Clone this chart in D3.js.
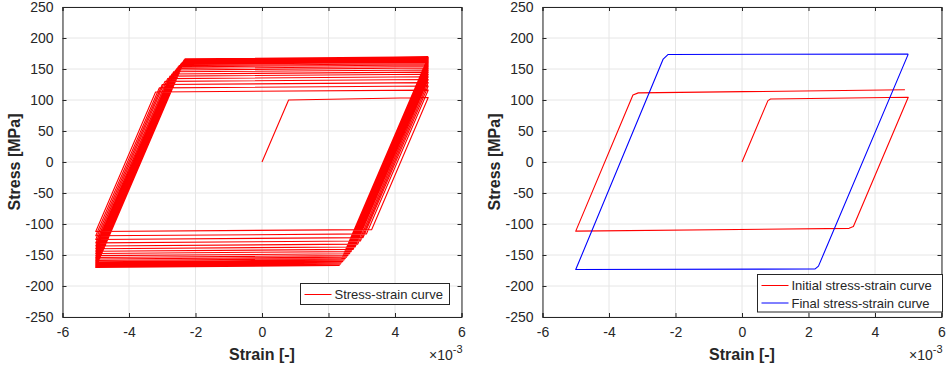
<!DOCTYPE html>
<html><head><meta charset="utf-8">
<script src="https://cdn.jsdelivr.net/npm/d3@7"></script>
<style>body{margin:0;background:#fff}svg{display:block}text{font-family:"Liberation Sans",Arial,Helvetica,sans-serif;fill:#262626}</style>
</head><body><div id="chart"></div>
<script>
// strain values in units of 1e-3
const xTicks = [-6, -4, -2, 0, 2, 4, 6];
const yTicks = [-250, -200, -150, -100, -50, 0, 50, 100, 150, 200, 250];

// Left: full cyclic history
const strainAll = [0, 0.8, 5, 3.30, -5, -3.20, 5, 3.14, -5, -3.09, 5, 3.04, -5, -3.00, 5, 2.96, -5, -2.92, 5, 2.88, -5, -2.84, 5, 2.80, -5, -2.77, 5, 2.74, -5, -2.71, 5, 2.68, -5, -2.66, 5, 2.63, -5, -2.60, 5, 2.58, -5, -2.56, 5, 2.54, -5, -2.52, 5, 2.50, -5, -2.49, 5, 2.47, -5, -2.45, 5, 2.44, -5, -2.43, 5, 2.42, -5, -2.40, 5, 2.39, -5, -2.38, 5, 2.37, -5, -2.36, 5, 2.36, -5, -2.35, 5, 2.34, -5, -2.34, 5, 2.33, -5, -2.32, 5, 2.32, -5, -2.32, 5, 2.31, -5, -2.31, 5];
const stressAll = [0, 100, 104, -109, -112, 113, 116, -116, -119, 119.5, 122.5, -122, -125, 125, 128, -127.5, -130.5, 130, 133, -132.5, -135.5, 134.5, 137.5, -137, -140, 138.5, 141.5, -141, -144, 142, 145, -144.5, -147.5, 145.5, 148.5, -148, -151, 148.5, 151.5, -151, -154, 151, 154, -153.5, -156.5, 153.5, 156.5, -155.8, -158.8, 155.5, 158.5, -157.8, -160.8, 157.5, 160.5, -159.5, -162.5, 159, 162, -161, -164, 160.5, 163.5, -162.3, -165.3, 161.8, 164.8, -163.5, -166.5, 163, 166, -164.5, -167.5, 164, 167, -165.3, -168.3, 164.8, 167.8, -166, -169, 165.5, 168.5, -166.5, -169.5, 166, 169, -167, -170, 166.5, 169.5];

// Right: initial and final cycles
const strainInit = [0, 0.78, 0.86, 5, 3.35, 3.22, -5, -3.28, -3.12, 4.9];
const stressInit = [0, 99, 101.5, 104.5, -104, -107, -111.5, 108, 111.5, 116.5];
const strainFinal = [5, 2.3, 2.2, -5, -2.37, -2.22, 5];
const stressFinal = [174, -168, -172.5, -173.5, 166, 173.5, 174];

const W = 946, H = 369;
const svg = d3.select("#chart").append("svg").attr("width", W).attr("height", H);
const yTop = 7, yBot = 317;
const y = d3.scaleLinear().domain([-250, 250]).range([yBot, yTop]);
const fmt = d => String(d);

function panel(x0, x1, series, legendItems, legendBox) {
  const x = d3.scaleLinear().domain([-6, 6]).range([x0, x1]);
  const g = svg.append("g");
  // grid
  g.append("g").selectAll("line").data(xTicks).join("line")
    .attr("x1", d => x(d)).attr("x2", d => x(d)).attr("y1", yTop).attr("y2", yBot)
    .attr("stroke", "#e6e6e6").attr("stroke-width", 1);
  g.append("g").selectAll("line").data(yTicks).join("line")
    .attr("x1", x0).attr("x2", x1).attr("y1", d => y(d)).attr("y2", d => y(d))
    .attr("stroke", "#e6e6e6").attr("stroke-width", 1);
  // data
  const line = d3.line().x(d => x(d[0])).y(d => y(d[1]));
  series.forEach(s => {
    const pts = s.xs.map((v, i) => [v, s.ys[i]]);
    g.append("path").attr("d", line(pts)).attr("fill", "none")
      .attr("stroke", s.color).attr("stroke-width", 1.1).attr("stroke-linejoin", "round");
  });
  // axes (ticks inward, box)
  const tl = 4;
  const axB = d3.axisBottom(x).tickValues(xTicks).tickSize(-tl).tickPadding(10).tickFormat(fmt);
  const axT = d3.axisTop(x).tickValues(xTicks).tickSize(-tl).tickFormat("");
  const axL = d3.axisLeft(y).tickValues(yTicks).tickSize(-tl).tickPadding(9).tickFormat(fmt);
  const axR = d3.axisRight(y).tickValues(yTicks).tickSize(-tl).tickFormat("");
  [[axB, `translate(0,${yBot})`], [axT, `translate(0,${yTop})`], [axL, `translate(${x0},0)`], [axR, `translate(${x1},0)`]].forEach(([ax, tr]) => {
    const a = g.append("g").attr("transform", tr).call(ax);
    a.selectAll("path.domain").attr("stroke", "#262626").attr("stroke-width", 1);
    a.selectAll(".tick line").attr("stroke", "#262626");
    a.selectAll("text").style("font-size", "14px").attr("fill", "#262626").style("font-family", '"Liberation Sans",Arial,sans-serif');
  });
  // labels
  g.append("text").attr("x", (x0 + x1) / 2).attr("y", 360).attr("text-anchor", "middle")
    .style("font-size", "16px").style("font-weight", "bold").text("Strain [-]");
  g.append("text").attr("transform", `translate(${x0 - 43},${(yTop + yBot) / 2}) rotate(-90)`)
    .attr("text-anchor", "middle").style("font-size", "16px").style("font-weight", "bold").text("Stress [MPa]");
  const ex = g.append("text").attr("x", x1 + 1).attr("y", 360).attr("text-anchor", "end").style("font-size", "14px");
  ex.append("tspan").text("\u00d710");
  ex.append("tspan").attr("dy", -7).style("font-size", "11px").text("-3");
  // legend
  const lg = g.append("g");
  lg.append("rect").attr("x", legendBox[0]).attr("y", legendBox[1]).attr("width", legendBox[2]).attr("height", legendBox[3])
    .attr("fill", "#fff").attr("stroke", "#262626").attr("stroke-width", 1);
  legendItems.forEach((it, i) => {
    const cy = legendBox[1] + 11 + i * 17.5;
    lg.append("line").attr("x1", legendBox[0] + 4).attr("x2", legendBox[0] + 31).attr("y1", cy).attr("y2", cy)
      .attr("stroke", it.color).attr("stroke-width", 1);
    lg.append("text").attr("x", legendBox[0] + 34).attr("y", cy).attr("dy", "0.35em").style("font-size", "13px").text(it.label);
  });
}

panel(62.5, 461.5,
  [{ xs: strainAll, ys: stressAll, color: "#ff0000" }],
  [{ label: "Stress-strain curve", color: "#ff0000" }],
  [300.5, 283.5, 149, 21]);

panel(542.5, 941.5,
  [{ xs: strainInit, ys: stressInit, color: "#ff0000" }, { xs: strainFinal, ys: stressFinal, color: "#0000ff" }],
  [{ label: "Initial stress-strain curve", color: "#ff0000" }, { label: "Final stress-strain curve", color: "#0000ff" }],
  [757.5, 274.5, 185, 37.5]);
</script></body></html>
